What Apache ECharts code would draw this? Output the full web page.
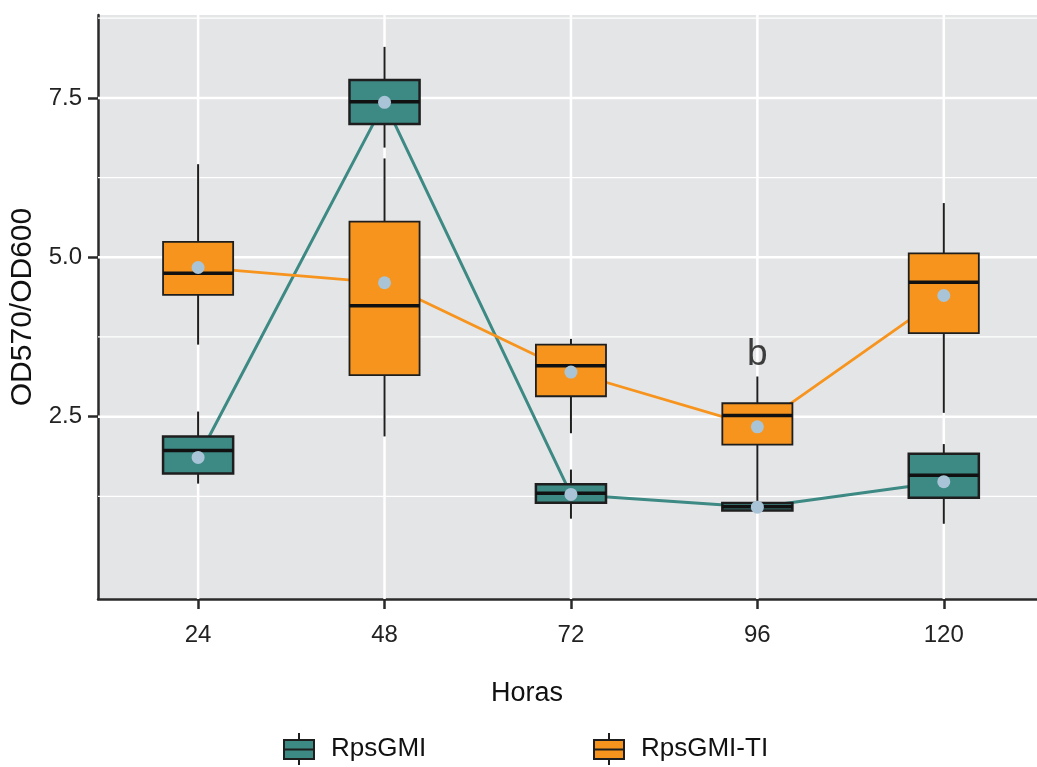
<!DOCTYPE html>
<html>
<head>
<meta charset="utf-8">
<script src="https://cdn.jsdelivr.net/npm/echarts@6/dist/echarts.min.js"></script>
<style>
html,body{margin:0;padding:0;background:#ffffff;}
#chart{width:1037px;height:767px;}
</style>
</head>
<body>
<div id="chart"></div>
<script>
// ---------- data ----------
const categories = ['24', '48', '72', '96', '120'];
const seriesNames = ['RpsGMI', 'RpsGMI-TI'];
// each row: [whiskerLow, Q1, median, Q3, whiskerHigh]
const rpsGMIBox = [
  [1.45, 1.61, 1.97, 2.19, 2.58],
  [6.72, 7.09, 7.44, 7.78, 8.30],
  [0.90, 1.15, 1.30, 1.44, 1.67],
  [1.03, 1.03, 1.085, 1.147, 1.15],
  [0.82, 1.23, 1.58, 1.92, 2.07]
];
const rpsGMIMean = [1.86, 7.43, 1.28, 1.08, 1.48];
const rpsGMITIBox = [
  [3.63, 4.41, 4.75, 5.24, 6.46],
  [2.19, 3.15, 4.24, 5.56, 6.55],
  [2.24, 2.82, 3.30, 3.63, 3.72],
  [1.15, 2.06, 2.52, 2.71, 3.13],
  [2.56, 3.81, 4.61, 5.06, 5.85]
];
const rpsGMITIMean = [4.84, 4.60, 3.20, 2.34, 4.40];
const yTickValues = [2.5, 5.0, 7.5];
const yMinorGrid = [1.25, 3.75, 6.25, 8.75];
const annotations = [{ category: '96', value: 3.47, text: 'b' }];

// ---------- styling ----------
const FONT = '"Liberation Sans", Arial, Helvetica, sans-serif';
const TEAL = '#3d8984';
const ORANGE = '#f7941d';
const DOT = '#a8c4d6';
const DARK = '#1e1e1e';
const PANEL = '#e4e5e7';
const BOX_WIDTH = 0.376;

const catIndex = categories.map((c, i) => i);

function boxRenderer(fill, borderW) {
  return function (params, api) {
    const x = api.value(0);
    const lo = api.coord([x, api.value(1)]);
    const q1 = api.coord([x, api.value(2)]);
    const md = api.coord([x, api.value(3)]);
    const q3 = api.coord([x, api.value(4)]);
    const hi = api.coord([x, api.value(5)]);
    const halfW = api.size([BOX_WIDTH, 0])[0] / 2;
    return {
      type: 'group',
      children: [
        { type: 'line', shape: { x1: lo[0], y1: lo[1], x2: q1[0], y2: q1[1] }, style: { stroke: DARK, lineWidth: 2 } },
        { type: 'line', shape: { x1: q3[0], y1: q3[1], x2: hi[0], y2: hi[1] }, style: { stroke: DARK, lineWidth: 2 } },
        { type: 'rect', shape: { x: q1[0] - halfW, y: q3[1], width: 2 * halfW, height: q1[1] - q3[1] },
          style: { fill: fill, stroke: DARK, lineWidth: borderW } },
        { type: 'line', shape: { x1: md[0] - halfW, y1: md[1], x2: md[0] + halfW, y2: md[1] },
          style: { stroke: '#111', lineWidth: 3.5 } }
      ]
    };
  };
}

function hGridRenderer(width) {
  return function (params, api) {
    const cs = params.coordSys;
    const p = api.coord([0, api.value(0)]);
    return { type: 'line', shape: { x1: cs.x, y1: p[1], x2: cs.x + cs.width, y2: p[1] },
      style: { stroke: '#ffffff', lineWidth: width } };
  };
}
function vGridRenderer(width) {
  return function (params, api) {
    const cs = params.coordSys;
    const p = api.coord([api.value(0), 0]);
    return { type: 'line', shape: { x1: p[0], y1: cs.y, x2: p[0], y2: cs.y + cs.height },
      style: { stroke: '#ffffff', lineWidth: width } };
  };
}

const legendIcon = 'path://M15,0 L15,7 M0,7 L30,7 L30,26 L0,26 Z M0,16.5 L30,16.5 M15,26 L15,32';

const option = {
  animation: false,
  backgroundColor: '#ffffff',
  textStyle: { fontFamily: FONT },
  title: {
    text: 'Horas',
    left: 527,
    top: 680,
    padding: 0,
    textAlign: 'center',
    textStyle: { fontFamily: FONT, fontSize: 27, fontWeight: 'normal', color: '#111' }
  },
  legend: [
    {
      left: 283, top: 732, padding: 0, itemWidth: 30, itemHeight: 32,
      data: [{ name: seriesNames[0], icon: legendIcon,
        itemStyle: { color: TEAL, borderColor: DARK, borderWidth: 2 } }],
      textStyle: { fontFamily: FONT, fontSize: 26, color: '#111', padding: [0, 0, 0, 12] },
      selectedMode: false
    },
    {
      left: 593, top: 732, padding: 0, itemWidth: 30, itemHeight: 32,
      data: [{ name: seriesNames[1], icon: legendIcon,
        itemStyle: { color: ORANGE, borderColor: DARK, borderWidth: 2 } }],
      textStyle: { fontFamily: FONT, fontSize: 26, color: '#111', padding: [0, 0, 0, 12] },
      selectedMode: false
    }
  ],
  grid: {
    left: 98, right: 0, top: 15, bottom: 168,
    show: true, backgroundColor: PANEL, borderWidth: 0,
    containLabel: false, outerBoundsMode: 'none'
  },
  xAxis: {
    type: 'value',
    min: -0.537,
    max: 4.50,
    axisLine: { show: true, onZero: false, lineStyle: { color: '#2a2a2a', width: 2.5 } },
    axisTick: { show: true, customValues: catIndex, length: 10, lineStyle: { color: '#2a2a2a', width: 2.5 } },
    axisLabel: {
      customValues: catIndex,
      formatter: v => categories[Math.round(v)],
      margin: 24, fontSize: 24, color: '#222', fontFamily: FONT
    },
    splitLine: { show: false }
  },
  yAxis: {
    type: 'value',
    min: -0.36,
    max: 8.8,
    name: 'OD570/OD600',
    nameLocation: 'middle',
    nameRotate: 90,
    nameGap: 58,
    nameTextStyle: { fontSize: 30, color: '#111', fontFamily: FONT },
    axisLine: { show: true, onZero: false, lineStyle: { color: '#2a2a2a', width: 2.5 } },
    axisTick: { show: true, customValues: yTickValues, length: 10, lineStyle: { color: '#2a2a2a', width: 2.5 } },
    axisLabel: {
      customValues: yTickValues,
      formatter: v => v.toFixed(1),
      margin: 16, fontSize: 24, color: '#222', fontFamily: FONT
    },
    splitLine: { show: false }
  },
  series: [
    { type: 'custom', z: 1, silent: true, renderItem: hGridRenderer(1.3),
      data: yMinorGrid.map(v => [v]), encode: { x: -1, y: 0 } },
    { type: 'custom', z: 1, silent: true, renderItem: hGridRenderer(2.5),
      data: yTickValues.map(v => [v]), encode: { x: -1, y: 0 } },
    { type: 'custom', z: 1, silent: true, renderItem: vGridRenderer(2.5),
      data: catIndex.map(v => [v]), encode: { x: 0, y: -1 } },
    { type: 'line', z: 2, silent: true, symbol: 'none',
      data: rpsGMIMean.map((v, i) => [i, v]),
      lineStyle: { color: TEAL, width: 3 } },
    { type: 'line', z: 2, silent: true, symbol: 'none',
      data: rpsGMITIMean.map((v, i) => [i, v]),
      lineStyle: { color: ORANGE, width: 2.8 } },
    { name: seriesNames[0], type: 'custom', z: 3, renderItem: boxRenderer(TEAL, 2.5),
      itemStyle: { color: TEAL },
      data: rpsGMIBox.map((b, i) => [i].concat(b)), encode: { x: 0, y: [1, 2, 3, 4, 5] } },
    { name: seriesNames[1], type: 'custom', z: 3, renderItem: boxRenderer(ORANGE, 1.8),
      itemStyle: { color: ORANGE },
      data: rpsGMITIBox.map((b, i) => [i].concat(b)), encode: { x: 0, y: [1, 2, 3, 4, 5] } },
    { type: 'scatter', z: 4, silent: true, symbol: 'circle', symbolSize: 13,
      itemStyle: { color: DOT, opacity: 1 },
      data: rpsGMIMean.map((v, i) => [i, v]) },
    { type: 'scatter', z: 4, silent: true, symbol: 'circle', symbolSize: 13,
      itemStyle: { color: DOT, opacity: 1 },
      data: rpsGMITIMean.map((v, i) => [i, v]) },
    { type: 'scatter', z: 5, silent: true, symbolSize: 0,
      data: annotations.map(a => ({ value: [categories.indexOf(a.category), a.value], text: a.text })),
      label: { show: true, position: 'inside', formatter: p => p.data.text,
        fontSize: 37, color: '#111', fontFamily: FONT } }
  ]
};

const chart = echarts.init(document.getElementById('chart'), null, { renderer: 'canvas' });
chart.setOption(option);
</script>
</body>
</html>
